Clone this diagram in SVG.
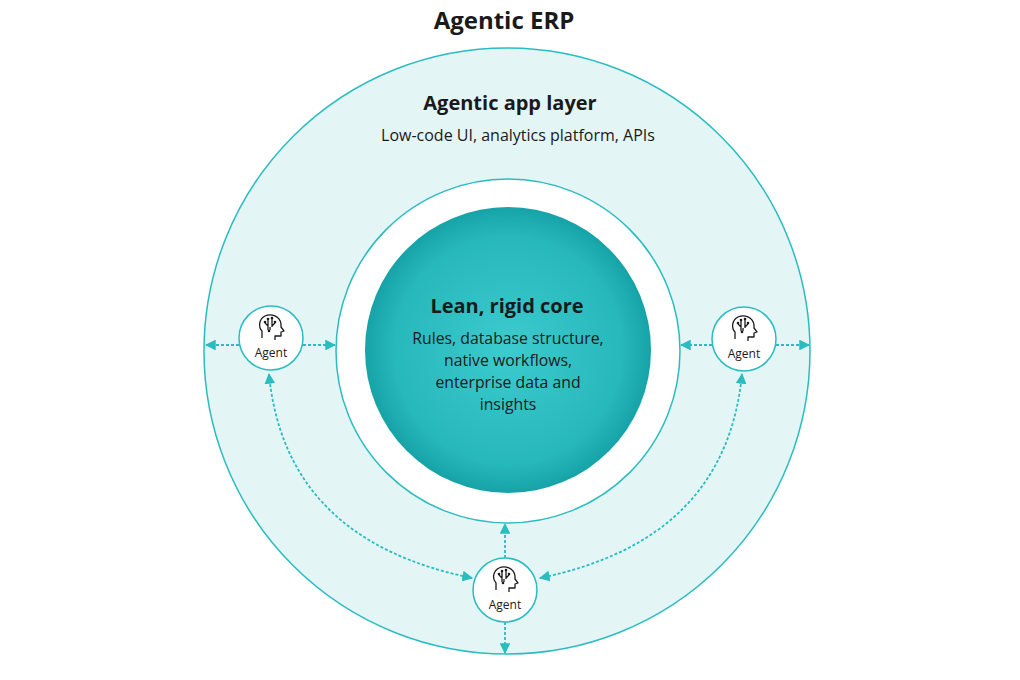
<svg xmlns="http://www.w3.org/2000/svg" width="1020" height="680" viewBox="0 0 1020 680">
<style>
text{font-family:"Open Sans","Noto Sans",sans-serif;fill:#1a1a1a;text-anchor:middle}
.b{font-weight:bold}
.ag{fill:#fff;stroke:#2bbcc0;stroke-width:1.5}
.c{fill:none;stroke:#2bbcc0;stroke-width:1.8;stroke-dasharray:3 2}
.ic{fill:none;stroke:#1a1a1a;stroke-width:1.3;stroke-linejoin:round}
</style>
<defs>
<radialGradient id="g" cx="50%" cy="50%" r="50%">
<stop offset="0" stop-color="#3ccbce"/><stop offset="0.8" stop-color="#27b8bc"/><stop offset="1" stop-color="#16a3a7"/>
</radialGradient>
<marker id="a" viewBox="0 0 10 10" refX="9" refY="5" markerWidth="6" markerHeight="6" orient="auto-start-reverse"><path d="M0,0L10,5L0,10z" fill="#2bbcc0"/></marker>
<g id="head">
<path class="ic" d="M-9,10V3C-13,-1-12,-9-6,-12C0,-15 9,-12 10,-4L10,-1L13,3L10,4V8L4,8V12"/>
<path class="ic" d="M-3,-8V2M1,-9V-1M-6,-5L-3,-2M4,-5L1,-2M-1,2L-1,-1"/>
<circle cx="-3" cy="-9" r="1.3" fill="#1a1a1a"/><circle cx="1" cy="-10" r="1.3" fill="#1a1a1a"/><circle cx="-6" cy="-6" r="1.3" fill="#1a1a1a"/><circle cx="4" cy="-6" r="1.3" fill="#1a1a1a"/><circle cx="-2" cy="3" r="1.3" fill="#1a1a1a"/>
</g>
</defs>
<rect width="1020" height="680" fill="#fff"/>
<text x="504" y="29" class="b" font-size="24">Agentic ERP</text>
<g id="outer"><circle cx="507" cy="351" r="303" fill="#e3f5f5" stroke="#2bbcc0" stroke-width="1.5"/>
<text x="510" y="110" class="b" font-size="20">Agentic app layer</text>
<text x="518" y="141" font-size="16">Low-code UI, analytics platform, APIs</text></g>
<g id="ring"><circle cx="508" cy="351" r="172" fill="#fff" stroke="#2bbcc0" stroke-width="1.5"/></g>
<g id="core"><circle cx="508" cy="350" r="143" fill="url(#g)"/>
<text x="507" y="313" class="b" font-size="20">Lean, rigid core</text>
<text font-size="15.8"><tspan x="508" y="344">Rules, database structure,</tspan><tspan x="508" y="366">native workflows,</tspan><tspan x="508" y="388">enterprise data and</tspan><tspan x="508" y="410">insights</tspan></text></g>
<g id="connectors">
<line class="c" x1="239" y1="345" x2="206" y2="345" marker-end="url(#a)"/>
<line class="c" x1="303" y1="345" x2="335" y2="345" marker-end="url(#a)"/>
<line class="c" x1="712" y1="345" x2="681" y2="345" marker-end="url(#a)"/>
<line class="c" x1="776" y1="345" x2="809" y2="345" marker-end="url(#a)"/>
<line class="c" x1="505" y1="558" x2="505" y2="524" marker-end="url(#a)"/>
<line class="c" x1="505" y1="622" x2="505" y2="653" marker-end="url(#a)"/>
<path class="c" d="M269,374Q285,540 472,578" marker-start="url(#a)" marker-end="url(#a)"/>
<path class="c" d="M742,374Q726,540 540,578" marker-start="url(#a)" marker-end="url(#a)"/>
</g>
<g id="agent-left"><circle class="ag" cx="271" cy="338" r="32"/><use href="#head" x="271" y="328"/><text x="271" y="357" font-size="12">Agent</text></g>
<g id="agent-right"><circle class="ag" cx="744" cy="339" r="32"/><use href="#head" x="744" y="329"/><text x="744" y="358" font-size="12">Agent</text></g>
<g id="agent-bottom"><circle class="ag" cx="505" cy="590" r="32"/><use href="#head" x="505" y="580"/><text x="505" y="609" font-size="12">Agent</text></g>
</svg>
